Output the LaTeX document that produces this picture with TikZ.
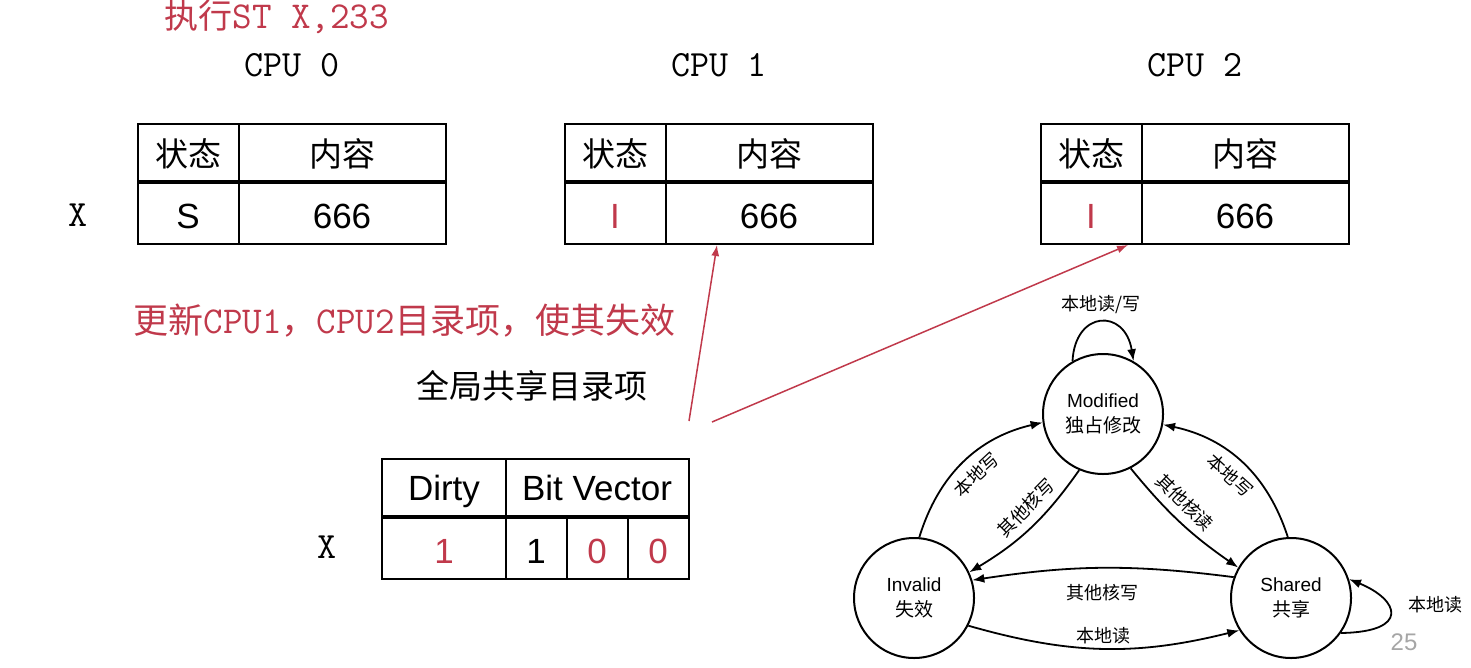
\documentclass[tikz,border=0pt]{standalone}
\usepackage{fontspec}
\setmainfont{Liberation Sans}
\newfontfamily\cjk{Noto Sans CJK SC}
\usetikzlibrary{arrows.meta}
\definecolor{alertred}{HTML}{C0394B}
\newcommand\tty[1]{{\fontsize{38}{40}\selectfont\ttfamily #1}}
\tikzset{
  cell/.style={anchor=base, font=\fontsize{35}{38}\selectfont},
  cncell/.style={anchor=base, font=\fontsize{33}{36}\selectfont\cjk},
  mono/.style={anchor=base, font=\fontsize{37}{40}\selectfont\ttfamily},
  cachebox/.style={draw, line width=2pt, minimum width=308pt, minimum height=120pt, inner sep=0pt},
  state/.style={circle, draw, line width=2pt, minimum size=120pt, inner sep=0pt, align=center, font=\fontsize{19}{25}\selectfont},
  trans/.style={line width=1.8pt, -{Latex[length=12pt,width=9pt]}},
  tlabel/.style={font=\fontsize{18}{20}\selectfont\cjk},
  upd/.style={alertred, line width=1.5pt, -{Latex[length=11pt,width=8pt]}},
}
\begin{document}
\begin{tikzpicture}[x=1pt,y=-1pt]
\useasboundingbox (0,0) rectangle (1471,667);
% instruction
\node[anchor=base west, text=alertred, font=\fontsize{34}{36}\selectfont\cjk] (instr) at (161,28) {执行\tty{ST X,233}};
% CPU caches
\foreach \xo/\st/\col/\n in {138/S/black/0, 565/I/alertred/1, 1041/I/alertred/2}{
  \node[mono] (lbl\n) at (\xo+154,76) {CPU \n};
  \node[cachebox] (cpu\n) at (\xo+154,184) {};
  \draw[line width=2pt] (\xo+101,124) -- (\xo+101,244);
  \draw[line width=4pt] (\xo,182) -- (\xo+308,182);
  \node[cncell] at (\xo+50,166) {状态};
  \node[cncell] at (\xo+204,166) {内容};
  \node[cell, text=\col] at (\xo+50,228) {\st};
  \node[cell] at (\xo+204,228) {666};
}
\node[mono] (rowx) at (78,226) {X};
% directory
\node[anchor=base west, text=alertred, font=\fontsize{35}{38}\selectfont\cjk] (updtxt) at (130,333)
  {更新\tty{CPU1}，\tty{CPU2}目录项，使其失效};
\node[anchor=base west, font=\fontsize{33}{36}\selectfont\cjk] (dirlbl) at (413,398) {全局共享目录项};
\node[cachebox, minimum width=307pt] (dir) at (535.5,519) {};
\draw[line width=2pt] (506,459) -- (506,579);
\draw[line width=4pt] (382,517) -- (689,517);
\draw[line width=2pt] (567,517) -- (567,579) (628,517) -- (628,579);
\node[cell] at (444,500) {Dirty};
\node[cell] at (597,500) {Bit Vector};
\node[cell, text=alertred] at (444,563) {1};
\node[cell] at (536,563) {1};
\node[cell, text=alertred] at (597,563) {0};
\node[cell, text=alertred] at (658,563) {0};
\node[mono] (dirx) at (327,558) {X};
\coordinate (src1) at (689,421);
\coordinate (src2) at (712,422);
\draw[upd] (src1) -- ([xshift=-2pt]cpu1.south);
\draw[upd] (src2) -- ([xshift=-67pt]cpu2.south);
% MSI states
\node[state] (mod) at (1103,414) {Modified\\{\cjk 独占修改}};
\node[state] (inv) at (914,598) {Invalid\\{\cjk 失效}};
\node[state] (shr) at (1291,598) {Shared\\{\cjk 共享}};
\draw[trans] (mod.120) .. controls (1075,310) and (1125,308) .. node[tlabel, above=4pt] {本地读/写} (mod.60);
\draw[trans] (inv.85) to[bend left=30] node[tlabel, sloped, below=5pt] {本地写} (mod.188);
\draw[trans] (mod.247) to[bend left=12] node[tlabel, sloped, above=5pt, pos=0.42] {其他核写} (inv.25);
\draw[trans] (mod.297) to[bend right=8] node[tlabel, sloped, above=5pt, pos=0.42] {其他核读} (shr.150);
\draw[trans] (shr.93) to[bend right=30] node[tlabel, sloped, below=5pt] {本地写} (mod.-10);
\draw[trans] (shr.160) to[bend right=8] node[tlabel, below=12pt] {其他核写} (inv.17);
\draw[trans] (inv.-27) to[bend right=15] node[tlabel, above] {本地读} (shr.212);
\draw[trans] (shr.-35) .. controls (1410,632) and (1400,600) .. (shr.18);
\node[tlabel] (loopr) at (1435,605) {本地读};
\node[text=gray!70, font=\fontsize{24}{26}\selectfont] (pg) at (1404,642) {25};
\end{tikzpicture}
\end{document}
